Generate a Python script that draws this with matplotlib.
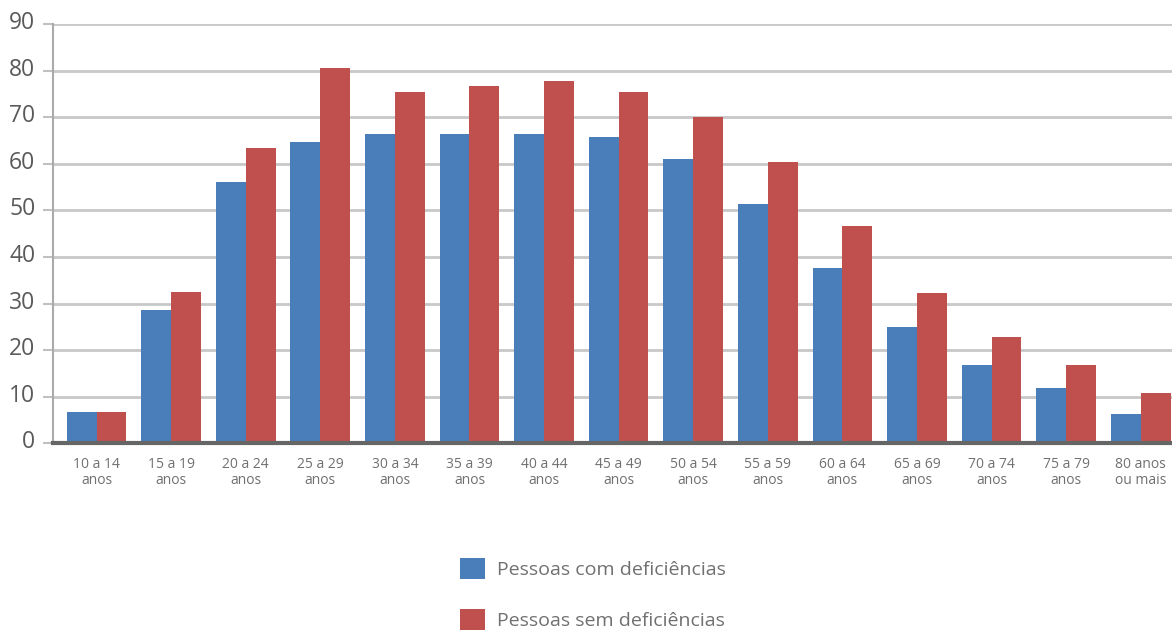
import matplotlib
matplotlib.use('Agg')
import matplotlib.pyplot as plt
import matplotlib.transforms as mtransforms
import numpy as np
from matplotlib.patches import Patch

plt.rcParams['font.family'] = ['Open Sans', 'DejaVu Sans']

faixas = ['10 a 14\nanos', '15 a 19\nanos', '20 a 24\nanos', '25 a 29\nanos',
          '30 a 34\nanos', '35 a 39\nanos', '40 a 44\nanos', '45 a 49\nanos',
          '50 a 54\nanos', '55 a 59\nanos', '60 a 64\nanos', '65 a 69\nanos',
          '70 a 74\nanos', '75 a 79\nanos', '80 anos\nou mais']
com_deficiencia = [6.7, 28.6, 56.0, 64.6, 66.5, 66.5, 66.5, 65.8, 61.0, 51.3,
                   37.6, 25.0, 16.8, 11.8, 6.3]
sem_deficiencia = [6.7, 32.5, 63.3, 80.5, 75.5, 76.8, 77.7, 75.4, 70.0, 60.3,
                   46.6, 32.3, 22.8, 16.8, 10.9]
legenda = ['Pessoas com deficiências', 'Pessoas sem deficiências']

azul = '#4a7ebb'
vermelho = '#c0504d'

fig = plt.figure(figsize=(11.72, 6.33), dpi=100)
ax = fig.add_axes([0.0455, 0.2994, 0.9545, 0.6627])

x = np.arange(len(faixas))
larg = 0.4
ax.bar(x - larg / 2, com_deficiencia, larg, color=azul, zorder=3)
ax.bar(x + larg / 2, sem_deficiencia, larg, color=vermelho, zorder=3)

ax.set_xlim(-0.58, len(faixas) - 0.58)
ax.set_ylim(0, 90)
ax.set_yticks(range(0, 91, 10))
ax.yaxis.grid(True, color='#c8c8c8', linewidth=2, zorder=0)
ax.set_axisbelow(True)

ax.set_xticks(x)
ax.set_xticklabels(faixas, fontsize=10, color='#707070', linespacing=1.1)
ax.tick_params(axis='x', length=0, pad=10)
ax.tick_params(axis='y', length=7, width=1.5, color='#c0c0c0',
               labelsize=16.5, labelcolor='#5a5a5a', pad=6)

# rotulos do eixo y um pouco acima das linhas, como no original
desloc = mtransforms.ScaledTranslation(0, 0.04, fig.dpi_scale_trans)
for rot in ax.get_yticklabels():
    rot.set_transform(rot.get_transform() + desloc)

for lado in ['top', 'right']:
    ax.spines[lado].set_visible(False)
ax.spines['left'].set_color('#aaaaaa')
ax.spines['left'].set_linewidth(1.5)
ax.spines['bottom'].set_color('#666666')
ax.spines['bottom'].set_linewidth(3)
ax.spines['bottom'].set_zorder(4)

handles = [Patch(color=azul, linewidth=0), Patch(color=vermelho, linewidth=0)]
fig.legend(handles, legenda, loc='upper left', bbox_to_anchor=(0.3925, 0.1185),
           frameon=False, fontsize=14, labelcolor='#707070',
           handlelength=1.29, handleheight=1.29, labelspacing=1.55,
           handletextpad=0.62, borderpad=0, borderaxespad=0)

fig.savefig('out.png', dpi=100)
